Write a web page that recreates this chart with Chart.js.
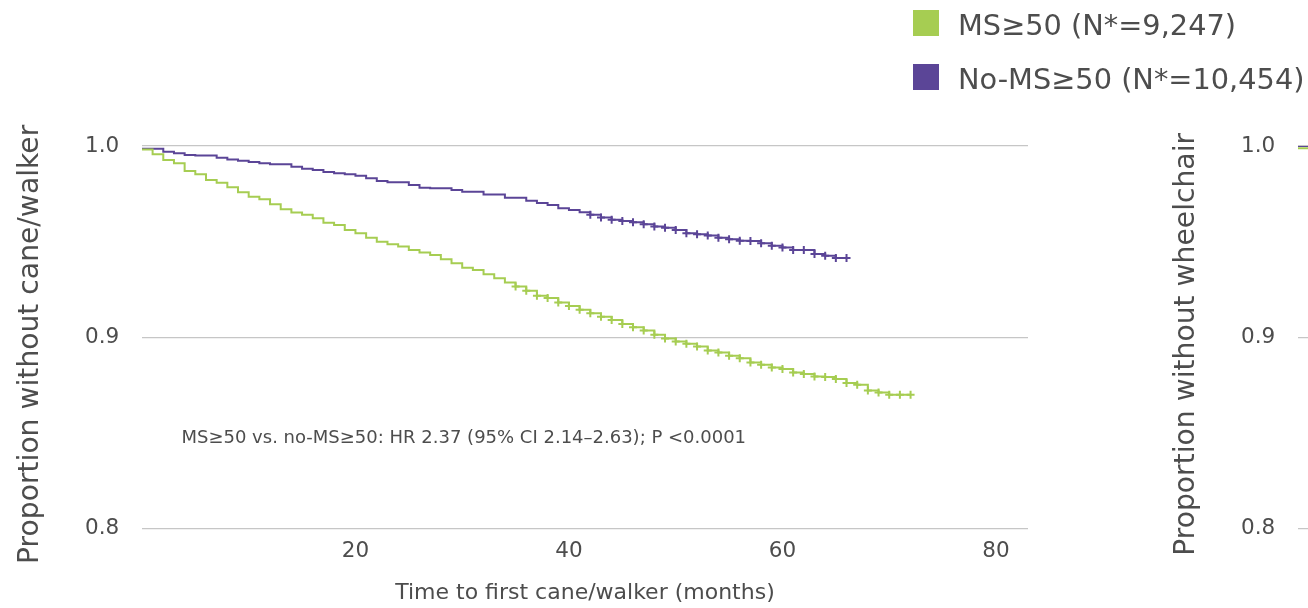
<!DOCTYPE html>
<html><head><meta charset="utf-8">
<script src="https://cdn.jsdelivr.net/npm/chart.js@4/dist/chart.umd.min.js"></script>
<style>
html,body{margin:0;padding:0;width:1308px;height:608px;overflow:hidden;background:#fff;}
.wrap{position:absolute;top:0;width:1308px;height:608px;}
#w1{left:0;}
#w2{left:1156px;}
</style></head><body>
<div class="wrap" id="w2"><canvas id="c2" width="1308" height="608"></canvas></div>
<div class="wrap" id="w1"><canvas id="c1" width="1308" height="608"></canvas></div>
<script>
// ---------- data ----------
const seriesLabels = ['MS\u226550 (N*=9,247)', 'No-MS\u226550 (N*=10,454)'];

const greenMonths = [0,1,2,3,4,5,6,7,8,9,10,11,12,13,14,15,16,17,18,19,20,21,22,23,24,25,26,27,28,29,30,31,32,33,34,35,36,37,38,39,40,41,42,43,44,45,46,47,48,49,50,51,52,53,54,55,56,57,58,59,60,61,62,63,64,65,66,67,68,69,70,71,72];
const greenSurvival = [0.9982,0.9957,0.9927,0.9910,0.9869,0.9852,0.9822,0.9808,0.9784,0.9758,0.9735,0.9722,0.9696,0.9669,0.9652,0.9640,0.9622,0.9599,0.9587,0.9561,0.9544,0.9521,0.9500,0.9487,0.9474,0.9457,0.9443,0.9430,0.9408,0.9387,0.9364,0.9352,0.9330,0.9309,0.9286,0.9265,0.9243,0.9217,0.9205,0.9182,0.9164,0.9144,0.9126,0.9108,0.9091,0.9070,0.9053,0.9035,0.9013,0.8994,0.8978,0.8966,0.8952,0.8931,0.8921,0.8903,0.8891,0.8868,0.8856,0.8842,0.8834,0.8816,0.8808,0.8795,0.8792,0.8782,0.8761,0.8752,0.8722,0.8712,0.8700,0.8700,0.8700];
const greenCensored = [35,36,37,38,39,40,41,42,43,44,45,46,47,48,49,50,51,52,53,54,55,56,57,58,59,60,61,62,63,64,65,66,67,68,69,70,71,72];

const purpleMonths = [0,1,2,3,4,5,6,7,8,9,10,11,12,13,14,15,16,17,18,19,20,21,22,23,24,25,26,27,28,29,30,31,32,33,34,35,36,37,38,39,40,41,42,43,44,45,46,47,48,49,50,51,52,53,54,55,56,57,58,59,60,61,62,63,64,65,66];
const purpleSurvival = [0.9986,0.9986,0.9970,0.9962,0.9953,0.9950,0.9950,0.9939,0.9930,0.9923,0.9916,0.9910,0.9904,0.9904,0.9892,0.9881,0.9875,0.9864,0.9857,0.9852,0.9845,0.9831,0.9817,0.9810,0.9810,0.9796,0.9782,0.9779,0.9779,0.9770,0.9761,0.9761,0.9746,0.9746,0.9730,0.9730,0.9714,0.9702,0.9692,0.9675,0.9666,0.9654,0.9640,0.9626,0.9614,0.9608,0.9601,0.9591,0.9579,0.9573,0.9561,0.9544,0.9539,0.9532,0.9521,0.9513,0.9505,0.9504,0.9492,0.9479,0.9469,0.9457,0.9457,0.9436,0.9426,0.9414,0.9414];
const purpleCensored = [42,43,44,45,46,47,48,49,50,51,52,53,54,55,56,57,58,59,60,61,62,63,64,65,66];

// second (cropped) panel: only its first month is visible
const wheelMonths = [0,1];
const wheelGreen = [0.9988,0.9985];
const wheelPurple = [1.0,0.9998];

const xTickValues = [20,40,60,80];
const yTickValues = [0.8,0.9,1.0];
const hrText = 'MS\u226550 vs. no-MS\u226550: HR 2.37 (95% CI 2.14\u20132.63); P <0.0001';
const hrAt = {x: 3.7, y: 0.8447};

// ---------- style ----------
const GREEN = '#a6cd52';
const PURPLE = '#5b4597';
const TEXT = '#4d4d4d';
const GRID = '#c6c6c6';
const FONT = '"DejaVu Sans", Verdana, sans-serif';

function pts(xs, ys){ return xs.map((x,i)=>({x:x, y:ys[i]})); }
function radii(xs, cens){ return xs.map(x => cens.includes(x) ? 4 : 0); }

function kmDataset(label, xs, ys, cens, color){
  return {
    label: label,
    data: pts(xs, ys),
    stepped: true,
    borderColor: color,
    backgroundColor: color,
    borderWidth: 2,
    pointStyle: 'cross',
    pointRadius: radii(xs, cens),
    pointBorderWidth: 2,
    pointBorderColor: color,
    pointHoverRadius: 0,
    pointHitRadius: 0,
    fill: false
  };
}

function makeOptions(yTitle, xTitle){
  return {
    responsive: false,
    animation: false,
    events: [],
    layout: {padding: {left: 0, top: 146, right: 280, bottom: 0}},
    plugins: {legend: {display: false}, tooltip: {enabled: false}},
    scales: {
      x: {
        type: 'linear', min: 0, max: 83,
        afterBuildTicks: s => { s.ticks = xTickValues.map(v => ({value: v})); },
        grid: {display: false, drawTicks: false},
        border: {display: false},
        ticks: {color: TEXT, font: {family: FONT, size: 21.5}, padding: 9.6},
        title: {display: true, text: xTitle, color: TEXT, font: {family: FONT, size: 22}, padding: {top: 6, bottom: 2}}
      },
      y: {
        type: 'linear', min: 0.8, max: 1.0,
        afterBuildTicks: s => { s.ticks = yTickValues.map(v => ({value: v})); },
        grid: {color: GRID, lineWidth: 1.2, drawTicks: false},
        border: {display: false},
        ticks: {color: TEXT, font: {family: FONT, size: 21.5}, padding: 22.7, callback: v => Number(v).toFixed(1)},
        title: {display: true, text: yTitle + '\u2002', color: TEXT, font: {family: FONT, size: 28.2}, padding: {top: 14, bottom: 14.5}}
      }
    }
  };
}

const legendPlugin = {
  id: 'kmLegend',
  afterDraw(chart){
    const ctx = chart.ctx;
    ctx.save();
    ctx.font = '28.8px ' + FONT;
    ctx.textAlign = 'left';
    ctx.textBaseline = 'alphabetic';
    chart.data.datasets.forEach((ds, i) => {
      const top = 10 + i * 54;
      ctx.fillStyle = ds.borderColor;
      ctx.fillRect(913, top, 26, 26);
      ctx.fillStyle = TEXT;
      ctx.fillText(ds.label, 958, top + 25.3);
    });
    ctx.restore();
  }
};

const hrPlugin = {
  id: 'hrNote',
  afterDatasetsDraw(chart){
    const ctx = chart.ctx;
    const px = chart.scales.x.getPixelForValue(hrAt.x);
    const py = chart.scales.y.getPixelForValue(hrAt.y);
    ctx.save();
    ctx.font = '18px ' + FONT;
    ctx.fillStyle = TEXT;
    ctx.textAlign = 'left';
    ctx.textBaseline = 'alphabetic';
    ctx.fillText(hrText, px, py);
    ctx.restore();
  }
};

new Chart(document.getElementById('c1'), {
  type: 'line',
  data: {datasets: [
    kmDataset(seriesLabels[0], greenMonths, greenSurvival, greenCensored, GREEN),
    kmDataset(seriesLabels[1], purpleMonths, purpleSurvival, purpleCensored, PURPLE)
  ]},
  options: makeOptions('Proportion without cane/walker', 'Time to first cane/walker (months)'),
  plugins: [legendPlugin, hrPlugin]
});

new Chart(document.getElementById('c2'), {
  type: 'line',
  data: {datasets: [
    kmDataset(seriesLabels[0], wheelMonths, wheelGreen, [], GREEN),
    kmDataset(seriesLabels[1], wheelMonths, wheelPurple, [], PURPLE)
  ]},
  options: makeOptions('Proportion without wheelchair', 'Time to first wheelchair (months)')
});
</script>
</body></html>
